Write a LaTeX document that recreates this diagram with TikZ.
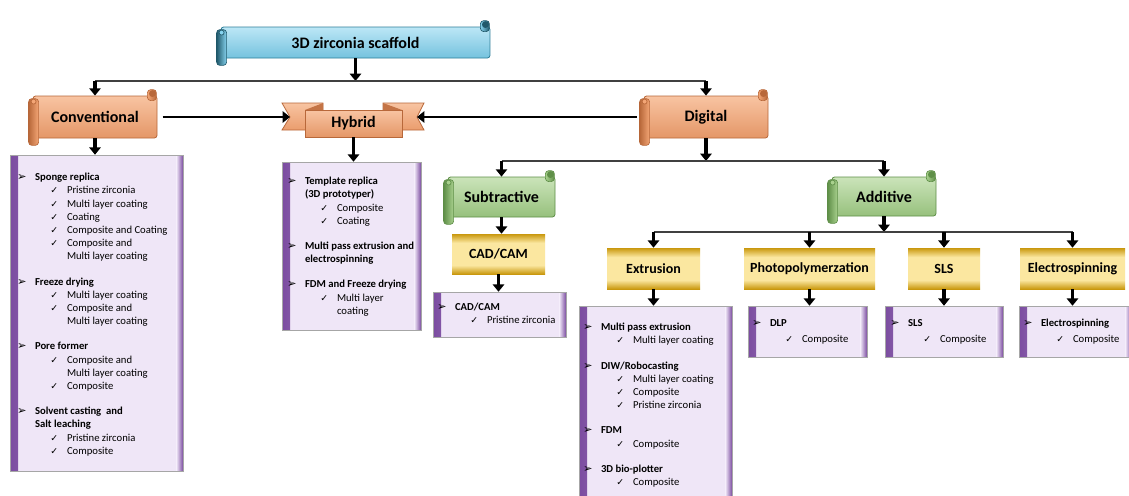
\documentclass[tikz,border=0pt]{standalone}
\usepackage{fontspec}
\setmainfont{Carlito}
\newfontfamily\symf{DejaVu Sans}
\usetikzlibrary{arrows.meta,calc,fit}

\definecolor{skyfill}{HTML}{86D3EF}
\definecolor{skydark}{HTML}{2F7F99}
\definecolor{orfill}{HTML}{F3A676}
\definecolor{orlight}{HTML}{F8C4A2}
\definecolor{ordark}{HTML}{B8683A}
\definecolor{grfill}{HTML}{A9D18E}
\definecolor{grlight}{HTML}{CBE4BA}
\definecolor{grdark}{HTML}{5F8F48}
\definecolor{gdfill}{HTML}{FBE7A0}
\definecolor{gddark}{HTML}{C9980E}
\definecolor{lvfill}{HTML}{EFE6F7}
\definecolor{lvdark}{HTML}{7B4CA0}

\pgfdeclarehorizontalshading{goldband}{100bp}{color(0bp)=(gddark); color(25bp)=(gddark); color(36bp)=(gdfill); color(64bp)=(gdfill); color(75bp)=(gddark); color(100bp)=(gddark)}

% list lines
\newcommand{\arrowbul}{{\symf\fontsize{8.5}{9.9}\selectfont ➢}}
\newcommand{\tickmark}{{\symf\fontsize{7}{9.9}\selectfont ✓}}
\newcommand{\listhead}[1]{\makebox[13.5pt][l]{\arrowbul}\textbf{#1}}
\newcommand{\listcont}[1]{\hspace*{13.5pt}\textbf{#1}}
\newcommand{\listitem}[1]{\hspace*{25pt}\makebox[12.5pt][l]{\tickmark}#1}
\newcommand{\listmore}[1]{\hspace*{37.5pt}#1}
\newcommand{\lst}[1]{\begin{tabular}[t]{@{}l@{}}#1\end{tabular}}
\newcommand{\gap}{9pt}

% rolled ends of a scroll node
\newcommand{\scrollends}[3]{%
  \draw[#2, line width=0.5pt, left color=#2, right color=#3, rounded corners=2.5pt]
    ($(#1.north west)+(-4,3)$) rectangle ($(#1.south west)+(6,7)$);
  \draw[#2, line width=0.5pt, fill=#3] ($(#1.north west)+(1,6)$) circle (2.5);
  \draw[#2, line width=0.5pt, left color=#3, right color=#2, rounded corners=2.5pt]
    ($(#1.north east)+(-10,-6)$) rectangle ($(#1.north east)+(-1,5)$);
  \draw[#2, line width=0.5pt, fill=#2] ($(#1.north east)+(-5,-2)$) circle (3);
}

\begin{document}
\begin{tikzpicture}[x=0.75pt, y=-0.75pt]
  \tikzset{
    size/.style 2 args={minimum width=#1*0.75pt, minimum height=#2*0.75pt},
    bigarrow/.style={line width=2.6pt, -{Triangle[width=8.5pt,length=5.5pt]}},
    sidearrow/.style={line width=2.2pt, -{Triangle[width=8.5pt,length=5.5pt]}},
    branch/.style={line width=0.9pt, black!75},
    scrollbody/.style={draw=#1, line width=0.6pt, rounded corners=2pt, inner sep=0pt,
      font=\bfseries\fontsize{12}{14}\selectfont},
    orange_scroll/.style={scrollbody=ordark, top color=orlight, middle color=orfill, bottom color=orfill!75!ordark},
    green_scroll/.style={scrollbody=grdark, top color=grlight, middle color=grfill, bottom color=grfill!75!grdark},
    goldbox/.style={shading=goldband, shading angle=90, inner sep=0pt,
      font=\bfseries\fontsize{10.5}{12}\selectfont},
    listbox/.style={fill=lvfill, draw=black!35, line width=0.4pt, inner sep=0pt,
      path picture={
        \fill[left color=lvdark, right color=lvfill] (path picture bounding box.south west)
          rectangle ([xshift=6pt]path picture bounding box.north west);
        \fill[left color=lvfill, right color=lvdark] ([xshift=-5pt]path picture bounding box.south east)
          rectangle (path picture bounding box.north east);
      }},
    listtext/.style={anchor=base west, inner sep=0pt, font=\fontsize{8}{9.9}\selectfont},
  }

  \useasboundingbox[fill=white] (0,0) rectangle (1129,496);

  % title
  \node[scrollbody=skydark, top color=skyfill!55!white, middle color=skyfill, bottom color=skyfill!80!skydark,
    size={269}{31}] (title) at (355.5,42.5) {3D zirconia scaffold};
  \scrollends{title}{skydark!70!black}{skyfill}

  % first level
  \node[orange_scroll, size={124}{42}] (conv) at (95,117) {Conventional};
  \scrollends{conv}{ordark}{orfill}
  \node[orange_scroll, size={124}{42}] (dig) at (706,117) {Digital};
  \scrollends{dig}{ordark}{orfill}

  % hybrid ribbon
  \draw[ordark, line width=0.6pt, top color=orlight, bottom color=orfill!85!ordark]
    (282,103) -- (323,103) -- (323,130) -- (282,130) -- (290,117) -- cycle;
  \draw[ordark, line width=0.6pt, top color=orlight, bottom color=orfill!85!ordark]
    (424,103) -- (383,103) -- (383,130) -- (424,130) -- (417,117) -- cycle;
  \fill[ordark!80!orfill] (305,110) -- (323,103) -- (323,110) -- cycle;
  \fill[ordark!80!orfill] (402,110) -- (383,103) -- (383,110) -- cycle;
  \node[orange_scroll, rounded corners=0pt, size={97}{27}] (hyb) at (353.5,123.5) {Hybrid};
  \coordinate (hyb-l) at (290,117);
  \coordinate (hyb-r) at (417,117);

  % second level
  \node[green_scroll, size={107}{40}] (sub) at (501.5,197) {Subtractive};
  \scrollends{sub}{grdark}{grfill}
  \node[green_scroll, size={104}{39}] (add) at (884,196.5) {Additive};
  \scrollends{add}{grdark}{grfill}

  % gold boxes
  \node[goldbox, size={93}{40}] (cadcam) at (498.5,254) {CAD/CAM};
  \node[goldbox, size={93}{41}] (extr) at (653.5,268.5) {Extrusion};
  \node[goldbox, size={131}{41}] (photo) at (809.5,268.5) {Photopolymerzation};
  \node[goldbox, size={72}{41}] (sls) at (944,268.5) {SLS};
  \node[goldbox, size={105}{41}] (elec) at (1072.5,268.5) {Electrospinning};

  % list boxes
  \node[listbox, fit={(10,155) (183,471)}] (convlist) {};
  \node[listbox, fit={(282,162) (421,330)}] (hyblist) {};
  \node[listbox, fit={(433,292) (566,337)}] (cadcamlist) {};
  \node[listbox, fit={(579,306) (732,500)}] (extrlist) {};
  \node[listbox, fit={(748,306) (867,357)}] (photolist) {};
  \node[listbox, fit={(885,306) (1003,357)}] (slslist) {};
  \node[listbox, fit={(1019,306) (1132,357)}] (eleclist) {};

  % list texts
  \node[listtext] (convtext) at ($(convlist.north west)+(7,26)$) {\lst{%
    \listhead{Sponge replica}\\
    \listitem{Pristine zirconia}\\
    \listitem{Multi layer coating}\\
    \listitem{Coating}\\
    \listitem{Composite and Coating}\\
    \listitem{Composite and}\\
    \listmore{Multi layer coating}\\[\gap]
    \listhead{Freeze drying}\\
    \listitem{Multi layer coating}\\
    \listitem{Composite and}\\
    \listmore{Multi layer coating}\\[\gap]
    \listhead{Pore former}\\
    \listitem{Composite and}\\
    \listmore{Multi layer coating}\\
    \listitem{Composite}\\[\gap]
    \listhead{Solvent casting\ \ and}\\
    \listcont{Salt leaching}\\
    \listitem{Pristine zirconia}\\
    \listitem{Composite}}};
  \node[listtext] (hybtext) at ($(hyblist.north west)+(5,23)$) {\lst{%
    \listhead{Template replica}\\
    \listcont{(3D prototyper)}\\
    \listitem{Composite}\\
    \listitem{Coating}\\[\gap]
    \listhead{Multi pass extrusion and}\\
    \listcont{electrospinning}\\[\gap]
    \listhead{FDM and Freeze drying}\\
    \listitem{Multi layer}\\
    \listmore{coating}}};
  \node[listtext] (cadcamtext) at ($(cadcamlist.north west)+(4,19)$) {\lst{%
    \listhead{CAD/CAM}\\
    \listitem{Pristine zirconia}}};
  \node[listtext] (extrtext) at ($(extrlist.north west)+(4,25)$) {\lst{%
    \listhead{Multi pass extrusion}\\
    \listitem{Multi layer coating}\\[\gap]
    \listhead{DIW/Robocasting}\\
    \listitem{Multi layer coating}\\
    \listitem{Composite}\\
    \listitem{Pristine zirconia}\\[\gap]
    \listhead{FDM}\\
    \listitem{Composite}\\[\gap]
    \listhead{3D bio-plotter}\\
    \listitem{Composite}}};
  \node[listtext] (phototext) at ($(photolist.north west)+(4,21)$) {\lst{%
    \listhead{DLP}\\[2pt]
    \listitem{Composite}}};
  \node[listtext] (slstext) at ($(slslist.north west)+(5,21)$) {\lst{%
    \listhead{SLS}\\[2pt]
    \listitem{Composite}}};
  \node[listtext] (electext) at ($(eleclist.north west)+(4,21)$) {\lst{%
    \listhead{Electrospinning}\\[2pt]
    \listitem{Composite}}};

  % connectors
  \coordinate (bar-a) at (0,81);
  \coordinate (bar-b) at (0,161);
  \coordinate (bar-c) at (0,232);

  \draw[bigarrow] (title.south) -- (title.south |- bar-a);
  \draw[branch] (conv.north |- bar-a) -- (dig.north |- bar-a);
  \draw[bigarrow] (conv.north |- bar-a) -- (conv.north);
  \draw[bigarrow] (dig.north |- bar-a) -- (dig.north);

  \draw[bigarrow] (conv.south) -- (conv.south |- convlist.north);
  \draw[sidearrow, shorten <=4pt] (conv.east) -- (hyb-l);
  \draw[sidearrow, shorten <=5pt] (dig.west) -- (hyb-r);
  \draw[bigarrow] (hyb.south) -- (hyb.south |- hyblist.north);

  \draw[bigarrow] (dig.south) -- (dig.south |- bar-b);
  \draw[branch] (sub.north |- bar-b) -- (add.north |- bar-b);
  \draw[bigarrow] (sub.north |- bar-b) -- (sub.north);
  \draw[bigarrow] (add.north |- bar-b) -- (add.north);

  \draw[bigarrow] (sub.south) -- (sub.south |- cadcam.north);
  \draw[bigarrow] (cadcam.south) -- (cadcam.south |- cadcamlist.north);

  \draw[bigarrow] (add.south) -- (add.south |- bar-c);
  \draw[branch] (extr.north |- bar-c) -- (elec.north |- bar-c);
  \foreach \gold in {extr, photo, sls, elec} {
    \draw[bigarrow] (\gold.north |- bar-c) -- (\gold.north);
    \draw[bigarrow] (\gold.south) -- (\gold.south |- \gold list.north);
  }
\end{tikzpicture}
\end{document}
